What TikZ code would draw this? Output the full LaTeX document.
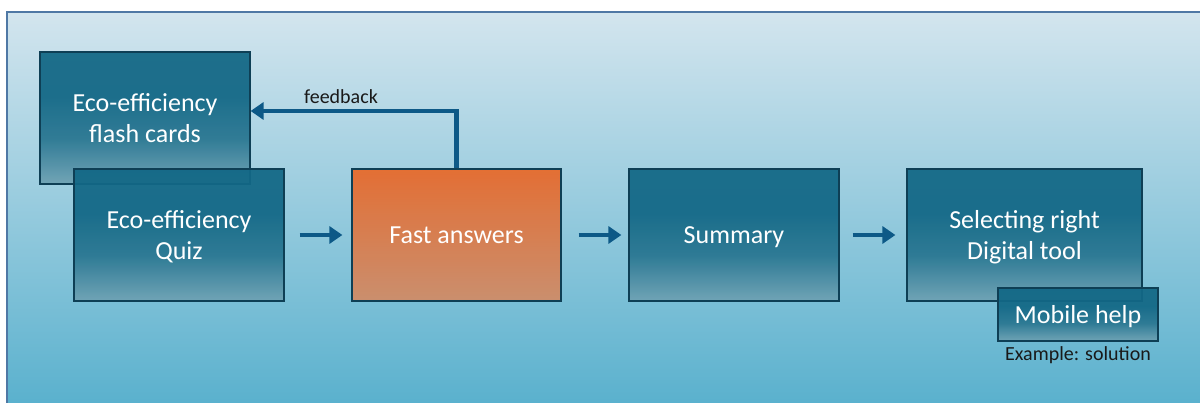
\documentclass[tikz,border=0pt]{standalone}
\usepackage{fontspec}
\setmainfont{Carlito}
\usetikzlibrary{arrows.meta}
\definecolor{bgtop}{HTML}{D3E5EE}
\definecolor{bgbot}{HTML}{58B0CD}
\definecolor{bgline}{HTML}{4F78A5}
\definecolor{boxtop}{HTML}{136886}
\definecolor{boxbot}{HTML}{70A3B4}
\definecolor{boxline}{HTML}{0E3F55}
\definecolor{orgtop}{HTML}{E8692A}
\definecolor{orgbot}{HTML}{CF8C68}
\definecolor{flowblue}{HTML}{0D5987}
\pgfdeclareverticalshading{tealshade}{100bp}{color(0bp)=(boxbot); color(25bp)=(boxbot);
	color(42bp)=(boxtop!75!boxbot); color(58bp)=(boxtop); color(100bp)=(boxtop)}
\newcommand{\bigtxt}{\fontsize{26}{31.5}\selectfont}

\begin{document}
\begin{tikzpicture}[x=1pt,y=-1pt,
	stepbox/.style={draw=boxline,line width=1.2pt,fill opacity=0.94,text opacity=1,
		shading=tealshade,text=white,align=center,font=\bigtxt,inner sep=0pt,text depth=0pt},
	hotbox/.style={stepbox,top color=orgtop,middle color=orgtop!55!orgbot,bottom color=orgbot},
	flow/.style={draw=flowblue,line width=4.5pt,-{Triangle[length=13pt,width=17pt]}},
	lbl/.style={text=black!90,font=\fontsize{20}{24}\selectfont,inner sep=0pt}]
					\useasboundingbox (0,0) rectangle (1200,403);
					%BACKGROUND
					\fill[top color=bgtop,bottom color=bgbot] (7,12) rectangle (1210,410);
					\draw[bgline,line width=1.5pt] (7,410) -- (7,12) -- (1210,12);
					%BOXES
					\node[stepbox,minimum width=210pt,minimum height=132pt] (cards) at (145,118) {Eco-efficiency\\flash cards};
					\node[stepbox,minimum width=210pt,minimum height=132pt] (quiz) at (179,235) {Eco-efficiency\\Quiz};
					\node[hotbox,minimum width=209pt,minimum height=132pt] (fast) at (456.5,235) {Fast answers};
					\node[stepbox,minimum width=210pt,minimum height=132pt] (summary) at (734,235) {Summary};
					\node[stepbox,minimum width=235pt,minimum height=132pt] (tool) at (1024.5,235) {Selecting right\\Digital tool};
					\node[stepbox,minimum width=160pt,minimum height=53pt] (mobile) at (1078,314.5) {Mobile help};
					\node[lbl] (example) at (1078,355) {Example: solution};
					%ARROWS
					\draw[flow,shorten <=15pt,shorten >=9pt] (quiz.east) -- (fast.west);
					\draw[flow,shorten <=17pt,shorten >=7pt] (fast.east) -- (summary.west);
					\draw[flow,shorten <=13pt,shorten >=11pt] (summary.east) -- (tool.west);
					\draw[flow] (fast.north) |- ([yshift=7pt]cards.east);
					\node[lbl] (fb) at (341,97) {feedback};
\end{tikzpicture}
\end{document}
